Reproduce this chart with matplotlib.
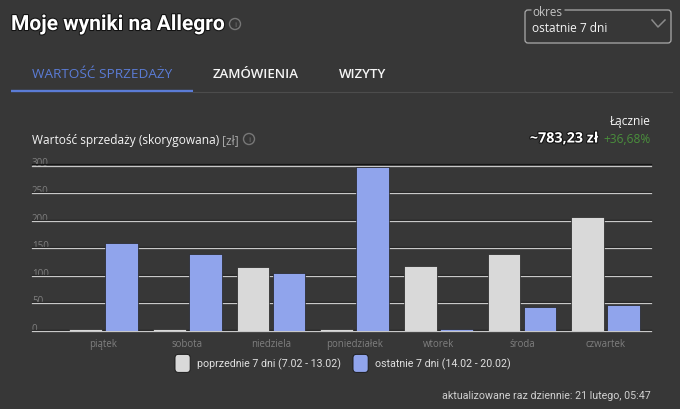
import matplotlib
matplotlib.use('Agg')
import matplotlib.pyplot as plt
import matplotlib.patheffects as pe
from matplotlib.legend_handler import HandlerPatch
from matplotlib.patches import Circle, FancyBboxPatch, Patch

days = ['piątek', 'sobota', 'niedziela', 'poniedziałek', 'wtorek', 'środa', 'czwartek']
prev_week = [3, 3, 116, 3, 117, 139, 206]
last_week = [159, 140, 105, 297, 3, 43, 47]
yticks = [0, 50, 100, 150, 200, 250, 300]
series_names = ['poprzednie 7 dni (7.02 - 13.02)', 'ostatnie 7 dni (14.02 - 20.02)']

BG = '#373737'
GREY = '#d9d9d9'
BLUE = '#90a4ec'
ACCENT = '#5b7cd6'
WHITE = '#f5f5f5'
MUTED = '#8c8c8c'

plt.rcParams['font.family'] = ['Open Sans', 'DejaVu Sans']
ROBOTO = ['Roboto', 'DejaVu Sans']

W, H = 680, 410
fig = plt.figure(figsize=(W / 100, H / 100), dpi=100, facecolor=BG)

# overlay in screen pixels for the page furniture around the chart
page = fig.add_axes([0, 0, 1, 1])
page.set_xlim(0, W)
page.set_ylim(H, 0)
page.axis('off')


def info_icon(x, y, r=5.5):
    page.add_patch(Circle((x, y), r, fill=False, ec='#777777', lw=1))
    page.text(x, y + 0.3, 'i', color='#777777', fontsize=6, ha='center', va='center')


class RoundHandler(HandlerPatch):
    def create_artists(self, legend, orig_handle, xdescent, ydescent, width, height, fontsize, trans):
        # handle box is shorter than the reference square, so grow it a bit downwards
        box = FancyBboxPatch((-xdescent, -ydescent - 2), width, height + 4,
                             boxstyle='round,pad=0,rounding_size=2.5',
                             fc=orig_handle.get_facecolor(), ec='#1c1c1c', lw=0.7, transform=trans)
        return [box]


shadow = [pe.withStroke(linewidth=1.5, foreground='#111111')]

page.text(11, 25.5, 'Moje wyniki na Allegro', color='white', fontsize=15.1, weight='bold',
          family=ROBOTO, va='center', path_effects=shadow)
info_icon(235, 25)

page.text(32, 75, 'WARTOŚĆ SPRZEDAŻY', color=ACCENT, fontsize=9.7, va='center', weight='medium')
page.text(213, 75, 'ZAMÓWIENIA', color=WHITE, fontsize=9.5, va='center', weight='semibold')
page.text(339, 75, 'WIZYTY', color=WHITE, fontsize=9.5, va='center', weight='semibold')
page.plot([193, 672], [92.5, 92.5], color='#4c4c4c', lw=0.8)
page.plot([11, 193], [91.5, 91.5], color=ACCENT, lw=1.7, solid_capstyle='butt')

# period selector
page.add_patch(FancyBboxPatch((525, 11), 146, 33, boxstyle='round,pad=0,rounding_size=3',
                              fill=False, ec='#ababab', lw=0.9))
page.plot([531, 564], [11, 11], color=BG, lw=2.5, solid_capstyle='butt')
page.text(532, 12.5, 'okres', color='#c4c4c4', fontsize=8.4, va='center')
page.text(532, 28.5, 'ostatnie 7 dni', color=WHITE, fontsize=8.6, va='center')
page.plot([652, 658, 665], [21, 28, 21], color='#8a8a8a', lw=1.1)

page.text(32, 140.5, 'Wartość sprzedaży (skorygowana)', color=WHITE, fontsize=8.6, va='center')
page.text(222, 140.5, '[zł]', color='#a8a8a8', fontsize=8.6, va='center')
info_icon(249, 140)

page.text(651, 122, 'Łącznie', color=WHITE, fontsize=8.6, ha='right', va='center')
page.text(598, 139.5, '~783,23 zł', color='white', fontsize=10.3, weight='bold', ha='right',
          va='center', path_effects=shadow)
page.text(651, 140, '+36,68%', color='#4a8f3c', fontsize=8.6, ha='right', va='center')

page.text(651, 396, 'aktualizowane raz dziennie: 21 lutego, 05:47', color='#d0d0d0',
          fontsize=7.65, family=ROBOTO, ha='right', va='center')

# chart: left=32px right=651px, y=0 at 332px, y=300 at 166.5px
ax = fig.add_axes([32 / W, 1 - 332 / H, 619 / W, 165.5 / H])
ax.patch.set_alpha(0)
for s in ax.spines.values():
    s.set_visible(False)

x = range(len(days))
bar_w = 0.39
off = 0.215
ax.bar([i - off for i in x], prev_week, bar_w, color=GREY, edgecolor='#222222', linewidth=0.5, zorder=3)
ax.bar([i + off for i in x], last_week, bar_w, color=BLUE, edgecolor='#222222', linewidth=0.5, zorder=3)

for v in yticks:
    ax.axhline(v, color='#c8c8c8', lw=0.9, zorder=2, clip_on=False,
               path_effects=[pe.SimpleLineShadow(offset=(0, 0.8), shadow_color='#141414', alpha=1),
                             pe.Normal()])

ax.set_xlim(-0.854, 6.54)
ax.set_ylim(0, 300)
ax.set_xticks(list(x))
ax.set_xticklabels(days, color='#7f7f7f', fontsize=6.9)
ax.set_yticks(yticks)
ax.set_yticklabels([str(v) for v in yticks], color='#7f7f7f', fontsize=7, ha='left', va='baseline')
ax.tick_params(axis='x', length=0, pad=5)
ax.tick_params(axis='y', length=0, pad=0)

handles = [Patch(facecolor=GREY, label=series_names[0]), Patch(facecolor=BLUE, label=series_names[1])]
leg = ax.legend(handles=handles, handler_map={Patch: RoundHandler()}, loc='upper left',
                bbox_to_anchor=((175 - 32) / 619, -0.158), ncol=2, frameon=False,
                prop={'family': ROBOTO, 'size': 7.65}, handlelength=1.43, handleheight=1.43,
                handletextpad=0.67, columnspacing=1.1, borderaxespad=0, borderpad=0)
for t in leg.get_texts():
    t.set_color('#e0e0e0')

fig.savefig('out.png', dpi=100, facecolor=BG)
